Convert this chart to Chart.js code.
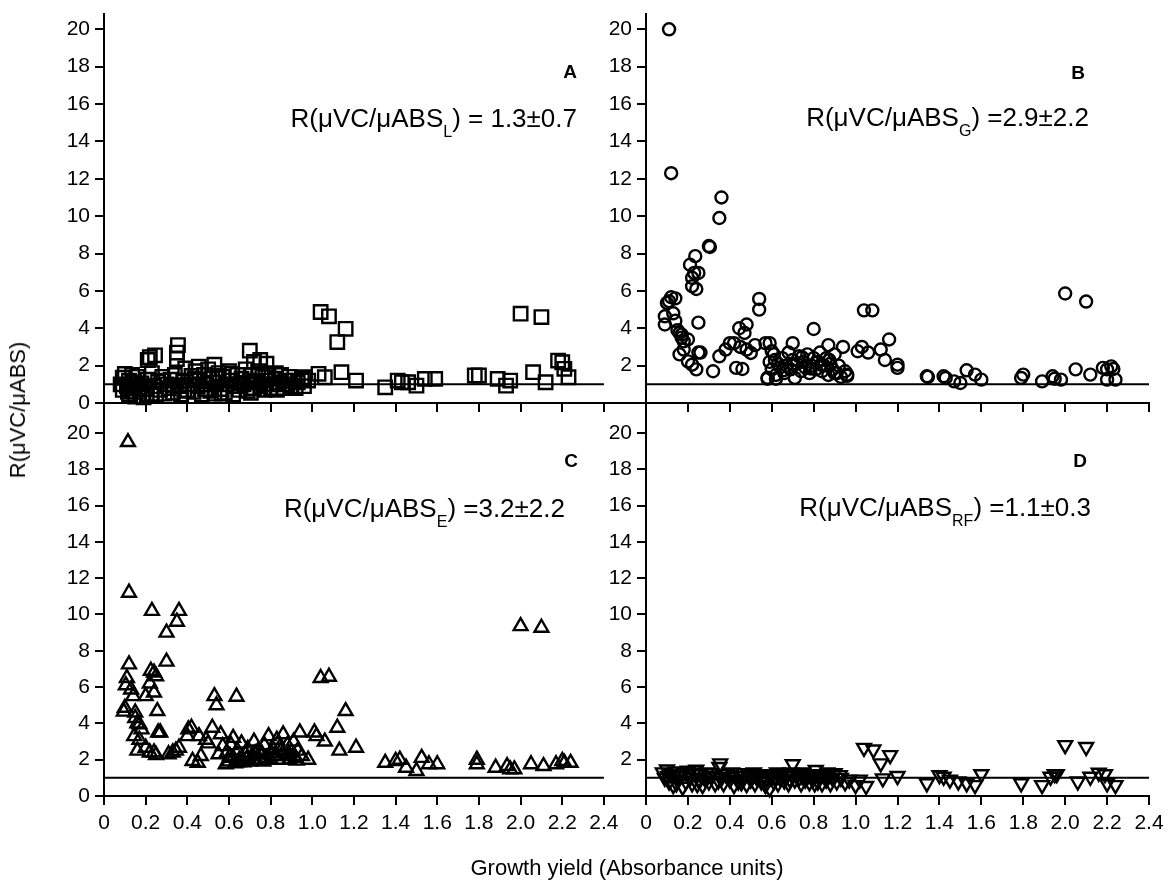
<!DOCTYPE html>
<html>
<head>
<meta charset="utf-8">
<script src="https://cdn.jsdelivr.net/npm/chart.js@4.4.0/dist/chart.umd.min.js"></script>
<style>
html,body{margin:0;padding:0;background:#fff;}
#wrap{position:relative;width:1168px;height:884px;overflow:hidden;font-family:"Liberation Sans",Arial,Helvetica,sans-serif;color:#000;}
#wrap canvas{position:absolute;left:0;top:0;width:1168px;height:884px;}
.t{position:absolute;white-space:nowrap;color:#000;}
.ann{font-size:26px;line-height:26px;}
.ann .sub{font-size:16px;position:relative;top:10px;}
.let{font-size:19px;line-height:19px;font-weight:bold;}
</style>
</head>
<body>
<div id="wrap">
<canvas id="cA" width="1168" height="884"></canvas>
<canvas id="cB" width="1168" height="884"></canvas>
<canvas id="cC" width="1168" height="884"></canvas>
<canvas id="cD" width="1168" height="884"></canvas>

<div class="t let" style="right:591px;top:62px;">A</div>
<div class="t let" style="right:83px;top:63px;">B</div>
<div class="t let" style="right:590px;top:451px;">C</div>
<div class="t let" style="right:81px;top:451px;">D</div>

<div class="t ann" style="right:591px;top:105px;">R(μVC/μABS<span class="sub">L</span>) = 1.3±0.7</div>
<div class="t ann" style="right:79px;top:104px;">R(μVC/μABS<span class="sub">G</span>) =2.9±2.2</div>
<div class="t ann" style="right:603px;top:495px;">R(μVC/μABS<span class="sub">E</span>) =3.2±2.2</div>
<div class="t ann" style="right:77px;top:494px;">R(μVC/μABS<span class="sub">RF</span>) =1.1±0.3</div>

<div class="t" style="left:627px;top:855px;font-size:22px;line-height:26px;transform:translateX(-50%);">Growth yield (Absorbance units)</div>
<div class="t" style="left:18px;top:410px;font-size:22px;line-height:26px;transform:translate(-50%,-50%) rotate(-90deg);">R(μVC/μABS)</div>
</div>

<script>
// ---------------- DATA ----------------
const X_TICKS = [0, 0.2, 0.4, 0.6, 0.8, 1.0, 1.2, 1.4, 1.6, 1.8, 2.0, 2.2, 2.4];
const X_TICK_LABELS = ['0', '0.2', '0.4', '0.6', '0.8', '1.0', '1.2', '1.4', '1.6', '1.8', '2.0', '2.2', '2.4'];
const Y_TICKS_LEFT = [0, 2, 4, 6, 8, 10, 12, 14, 16, 18, 20];
const Y_TICKS_RIGHT = [2, 4, 6, 8, 10, 12, 14, 16, 18, 20];
const REF_LINE = [[0, 1], [2.4, 1]];

// Panel A: squares (x = growth yield, y = R)
const SQUARES_A = [
  [0.08,1.0],[0.09,1.35],[0.09,0.7],[0.10,1.55],[0.11,0.9],[0.12,1.2],[0.12,0.45],[0.13,0.8],[0.14,1.1],[0.15,0.35],
  [0.15,0.95],[0.16,1.4],[0.17,0.6],[0.18,1.05],[0.19,0.3],[0.20,0.75],[0.21,1.25],[0.21,2.3],[0.22,2.45],[0.23,0.5],
  [0.23,1.6],[0.24,0.9],[0.245,2.55],[0.25,0.4],[0.26,1.15],[0.27,0.7],[0.28,1.4],[0.29,0.5],[0.30,1.0],[0.31,0.8],
  [0.32,1.25],[0.33,0.55],[0.34,1.5],[0.35,2.7],[0.355,3.1],[0.35,2.35],[0.36,0.9],[0.37,0.45],[0.38,1.2],[0.39,1.85],
  [0.40,0.7],[0.41,1.0],[0.42,1.45],[0.43,0.6],[0.44,1.7],[0.45,0.9],[0.455,1.95],[0.46,1.2],[0.47,0.45],[0.48,1.5],
  [0.49,1.0],[0.50,1.8],[0.51,0.65],[0.52,1.3],[0.53,2.05],[0.53,0.5],[0.54,1.1],[0.55,1.6],[0.56,0.75],[0.57,1.4],
  [0.58,0.55],[0.59,1.0],[0.60,1.7],[0.61,1.2],[0.62,0.45],[0.63,0.9],[0.64,1.5],[0.65,0.7],[0.66,1.3],[0.67,1.0],
  [0.68,1.8],[0.69,0.65],[0.70,1.2],[0.70,2.8],[0.71,1.5],[0.72,2.2],[0.72,0.8],[0.73,1.1],[0.74,1.7],[0.75,2.3],
  [0.75,0.9],[0.76,1.4],[0.77,0.7],[0.78,2.1],[0.78,1.2],[0.79,1.5],[0.80,0.8],[0.81,1.0],[0.82,1.3],[0.83,0.7],
  [0.84,1.1],[0.85,1.5],[0.86,0.8],[0.87,1.2],[0.88,1.0],[0.89,1.4],[0.90,0.9],[0.91,1.2],[0.92,0.8],[0.93,1.1],
  [0.95,1.3],[0.96,0.9],[0.96,1.38],[0.98,1.2],[0.115,0.6],[0.135,1.5],[0.165,0.85],[0.205,0.45],[0.285,1.2],[0.335,0.95],
  [0.385,0.65],[0.435,1.3],[0.485,0.75],[0.545,1.45],[0.565,0.5],[0.615,1.55],[0.655,1.05],[0.705,0.55],[0.765,1.0],[0.825,1.6],
  [1.03,1.56],[1.04,4.87],[1.06,1.38],[1.08,4.64],[1.12,3.26],[1.14,1.65],
  [1.16,3.97],[1.21,1.2],[1.35,0.84],[1.41,1.2],[1.43,1.11],[1.46,1.11],[1.50,0.93],[1.54,1.29],[1.59,1.29],[1.78,1.47],
  [1.80,1.47],[1.89,1.29],[1.93,0.93],[1.95,1.2],[2.00,4.78],[2.06,1.65],[2.10,4.6],[2.12,1.11],[2.18,2.27],[2.20,2.18],
  [2.21,1.83],[2.23,1.38]
];

// Panel B: circles
const CIRCLES_B = [
  [0.11,20.0],[0.12,12.3],[0.36,11.0],[0.35,9.9],[0.30,8.4],[0.305,8.35],[0.235,7.86],[0.21,7.4],[0.23,6.96],[0.25,6.96],
  [0.22,6.7],[0.22,6.25],[0.24,6.1],[0.12,5.66],[0.14,5.6],[0.10,5.36],[0.11,5.45],[0.09,4.64],[0.09,4.2],[0.13,4.8],
  [0.25,4.3],[0.14,4.4],[0.15,3.9],[0.16,3.75],[0.17,3.5],[0.17,3.66],[0.18,3.3],[0.20,3.4],[0.16,2.6],[0.18,2.86],
  [0.20,2.23],[0.22,2.05],[0.24,1.8],[0.25,2.7],[0.26,2.7],[0.32,1.7],[0.35,2.5],[0.38,2.86],[0.40,3.2],[0.42,3.2],
  [0.43,1.88],[0.46,1.82],[0.445,4.0],[0.48,4.2],[0.47,3.75],[0.45,3.0],[0.48,2.86],[0.50,2.68],[0.54,5.57],[0.54,5.0],
  [0.52,3.1],[0.57,3.2],[0.58,1.3],[0.60,2.77],[0.62,1.3],[0.58,1.35],[0.59,2.2],[0.59,3.2],[0.60,1.8],[0.61,2.6],
  [0.62,1.5],[0.63,2.1],[0.64,1.9],[0.65,2.4],[0.66,1.6],[0.67,2.0],[0.68,2.7],[0.69,1.8],[0.70,2.3],[0.70,3.2],
  [0.71,1.34],[0.72,2.1],[0.73,2.5],[0.74,1.7],[0.75,2.2],[0.76,1.9],[0.77,2.6],[0.78,1.6],[0.79,2.0],[0.80,2.4],
  [0.80,3.96],[0.81,1.8],[0.82,2.2],[0.83,2.7],[0.84,1.7],[0.85,2.0],[0.86,2.4],[0.87,1.5],[0.87,3.1],[0.88,2.1],
  [0.89,1.8],[0.90,2.6],[0.90,1.6],[0.91,1.6],[0.92,2.0],[0.93,1.4],[0.94,3.0],[0.95,1.7],[0.96,1.45],[0.96,1.52],
  [0.615,2.3],[0.655,1.75],[0.705,2.05],[0.745,2.45],[0.785,1.85],[0.835,2.05],[0.875,2.3],
  [1.01,2.77],[1.03,3.0],[1.04,4.96],[1.06,2.7],[1.08,4.96],[1.12,2.86],[1.14,2.3],[1.16,3.4],[1.20,2.05],[1.20,1.88],
  [1.34,1.43],[1.345,1.4],[1.42,1.43],[1.43,1.34],[1.47,1.16],[1.50,1.07],[1.53,1.75],[1.57,1.52],[1.60,1.25],[1.79,1.34],
  [1.80,1.52],[1.89,1.16],[1.94,1.43],[1.95,1.3],[1.98,1.25],[2.00,5.86],[2.10,5.43],[2.05,1.8],[2.12,1.52],[2.18,1.88],
  [2.20,1.8],[2.22,1.96],[2.23,1.82],[2.20,1.25],[2.24,1.25]
];

// Panel C: triangles
const TRIANGLES_C = [
  [0.115,19.5],[0.12,11.2],[0.23,10.2],[0.36,10.2],[0.35,9.6],[0.30,9.0],[0.30,7.4],[0.12,7.25],[0.11,6.5],[0.105,6.1],
  [0.225,6.9],[0.24,6.8],[0.25,6.6],[0.22,6.2],[0.24,5.7],[0.20,5.5],[0.13,5.87],[0.14,5.5],[0.10,4.86],[0.095,4.65],
  [0.256,4.68],[0.15,4.6],[0.15,4.3],[0.16,4.0],[0.17,3.95],[0.18,3.67],[0.145,3.3],[0.17,3.1],[0.26,3.5],[0.27,3.5],
  [0.16,2.5],[0.20,2.66],[0.22,2.4],[0.24,2.4],[0.25,2.26],[0.31,2.3],[0.33,2.4],[0.345,2.5],[0.36,2.66],[0.405,3.67],
  [0.42,3.76],[0.40,3.3],[0.425,1.93],[0.45,1.83],[0.465,2.2],[0.456,3.3],[0.49,3.1],[0.50,2.9],[0.52,3.76],[0.53,5.5],
  [0.54,5.0],[0.56,3.4],[0.57,2.75],[0.55,2.3],[0.636,5.47],[0.62,3.2],[0.585,1.75],[0.59,2.4],[0.60,1.9],[0.61,2.8],
  [0.62,2.1],[0.63,1.8],[0.64,2.5],[0.65,2.0],[0.66,2.9],[0.67,1.85],[0.68,2.3],[0.69,2.6],[0.70,1.9],[0.71,2.2],
  [0.72,3.0],[0.73,2.0],[0.74,2.5],[0.75,1.95],[0.76,2.3],[0.77,2.8],[0.78,2.1],[0.79,3.3],[0.80,2.0],[0.81,2.6],
  [0.82,2.2],[0.83,3.1],[0.84,2.0],[0.85,2.5],[0.86,3.4],[0.87,2.2],[0.88,2.8],[0.89,2.0],[0.90,2.4],[0.91,3.0],
  [0.92,2.1],[0.93,2.5],[0.94,3.5],[0.95,2.2],[0.98,2.0],[0.605,2.2],[0.645,1.85],[0.685,2.05],[0.725,2.35],[0.765,1.9],
  [0.805,2.35],[0.845,2.7],[0.885,2.3],[0.925,1.95],
  [1.01,3.5],[1.02,3.3],[1.06,3.0],[1.04,6.5],[1.08,6.57],
  [1.16,4.68],[1.12,3.76],[1.13,2.5],[1.21,2.66],[1.35,1.83],[1.40,1.93],[1.42,2.0],[1.45,1.56],[1.50,1.38],[1.525,2.1],
  [1.56,1.75],[1.60,1.75],[1.79,2.0],[1.79,1.75],[1.88,1.56],[1.935,1.65],[1.95,1.47],[1.97,1.47],[2.00,9.36],[2.10,9.27],
  [2.05,1.75],[2.11,1.65],[2.17,1.75],[2.20,1.93],[2.21,1.83],[2.24,1.83]
];

// Panel D: inverted triangles
const INV_TRIANGLES_D = [
  [0.08,1.3],[0.09,1.0],[0.10,1.46],[0.11,0.8],[0.12,1.2],[0.13,0.6],[0.14,1.35],[0.15,0.9],[0.16,1.1],[0.175,0.5],
  [0.18,1.3],[0.19,0.8],[0.20,1.4],[0.21,1.0],[0.22,0.7],[0.23,1.3],[0.24,1.45],[0.25,0.9],[0.26,1.2],[0.27,0.6],
  [0.28,1.0],[0.29,1.3],[0.30,0.8],[0.31,1.1],[0.33,0.7],[0.35,1.6],[0.354,1.8],[0.36,1.0],[0.37,0.7],[0.38,1.2],
  [0.40,0.9],[0.41,1.3],[0.42,0.6],[0.43,1.1],[0.44,0.8],[0.45,1.25],[0.46,0.9],[0.47,1.1],[0.48,0.65],[0.49,1.2],
  [0.50,0.9],[0.51,1.15],[0.52,0.7],[0.53,1.0],[0.54,1.2],[0.55,0.8],[0.56,1.1],[0.57,0.6],[0.59,0.42],[0.59,1.0],
  [0.60,1.2],[0.61,0.8],[0.62,1.1],[0.63,0.7],[0.64,1.0],[0.65,1.2],[0.66,0.85],[0.67,1.1],[0.68,0.7],[0.69,1.3],
  [0.70,1.75],[0.71,0.9],[0.72,1.2],[0.73,1.0],[0.74,0.7],[0.75,1.3],[0.76,0.9],[0.77,1.1],[0.78,0.75],[0.79,1.2],
  [0.80,1.0],[0.81,1.43],[0.82,0.8],[0.83,1.1],[0.84,0.7],[0.85,1.2],[0.86,0.9],[0.87,1.1],[0.88,0.7],[0.89,1.0],
  [0.90,1.25],[0.91,0.8],[0.93,1.0],[0.95,0.75],[0.97,0.9],[1.00,0.6],[1.02,0.9],[1.05,0.55],
  [0.105,1.1],[0.145,0.7],[0.205,1.2],[0.245,0.65],[0.305,1.25],[0.345,0.85],[0.395,1.05],[0.455,0.75],[0.515,1.3],
  [0.575,0.95],[0.625,1.3],[0.685,0.95],[0.745,1.1],[0.805,0.7],[0.865,1.3],[0.925,1.15],
  [1.04,2.65],[1.085,2.56],
  [1.12,1.8],[1.165,2.25],[1.13,0.97],[1.20,1.1],[1.34,0.7],[1.40,1.15],[1.42,1.06],[1.45,0.9],[1.49,0.8],[1.53,0.7],
  [1.57,0.6],[1.60,1.2],[1.79,0.7],[1.89,0.6],[1.93,1.06],[1.95,1.2],[1.96,1.2],[2.00,2.8],[2.10,2.7],[2.06,0.8],
  [2.12,1.06],[2.16,1.28],[2.19,1.2],[2.20,0.7],[2.24,0.6]
];

// ---------------- CHARTS ----------------
const FONT = "'Liberation Sans', Arial, Helvetica, sans-serif";
const Y_W = 70, X_H = 60, W = 1168, H = 884;
const toXY = arr => arr.map(p => ({x: p[0], y: p[1]}));

function makePanel(id, points, pointStyle, rotation, radius, area, xMax, yMax, yTicks, showXLabels) {
  new Chart(document.getElementById(id), {
    type: 'scatter',
    data: {
      datasets: [
        {
          data: toXY(REF_LINE),
          showLine: true,
          borderColor: '#000',
          borderWidth: 2,
          pointRadius: 0,
          fill: false
        },
        {
          data: toXY(points),
          pointStyle: pointStyle,
          rotation: rotation,
          pointRadius: radius,
          pointBorderWidth: 2.4,
          borderColor: '#000',
          backgroundColor: 'rgba(0,0,0,0)',
          showLine: false,
          clip: false
        }
      ]
    },
    options: {
      responsive: false,
      animation: false,
      events: [],
      layout: {
        padding: {
          left: area.l - Y_W,
          right: W - area.r,
          top: area.t,
          bottom: H - area.b - X_H
        }
      },
      plugins: { legend: { display: false }, tooltip: { enabled: false }, title: { display: false } },
      scales: {
        x: {
          type: 'linear',
          min: 0,
          max: xMax,
          afterBuildTicks: s => { s.ticks = X_TICKS.map(v => ({ value: v })); },
          afterFit: s => { s.height = X_H; s.paddingLeft = 0; s.paddingRight = 0; s.paddingTop = 0; s.paddingBottom = 0; },
          ticks: {
            display: showXLabels,
            autoSkip: false,
            maxRotation: 0,
            minRotation: 0,
            padding: 6,
            color: '#000',
            font: { family: FONT, size: 21 },
            callback: (v, i) => X_TICK_LABELS[i]
          },
          grid: { drawOnChartArea: false, drawTicks: true, tickLength: 9, color: '#000', lineWidth: 2 },
          border: { display: true, color: '#000', width: 2 }
        },
        y: {
          type: 'linear',
          min: 0,
          max: yMax,
          afterBuildTicks: s => { s.ticks = yTicks.map(v => ({ value: v })); },
          afterFit: s => { s.width = Y_W; s.paddingLeft = 0; s.paddingRight = 0; s.paddingTop = 0; s.paddingBottom = 0; },
          ticks: {
            autoSkip: false,
            padding: 5,
            color: '#000',
            font: { family: FONT, size: 21 },
            callback: v => String(v)
          },
          grid: { drawOnChartArea: false, drawTicks: true, tickLength: 9, color: '#000', lineWidth: 2 },
          border: { display: true, color: '#000', width: 2 }
        }
      }
    }
  });
}

makePanel('cA', SQUARES_A, 'rect', 0, 9.5, { l: 104, r: 646, t: 14, b: 403 }, 2.602, 20.82, Y_TICKS_LEFT, false);
makePanel('cB', CIRCLES_B, 'circle', 0, 6, { l: 646, r: 1149, t: 14, b: 403 }, 2.4, 20.82, Y_TICKS_RIGHT, false);
makePanel('cC', TRIANGLES_C, 'triangle', 0, 8, { l: 104, r: 646, t: 403, b: 796 }, 2.602, 21.65, Y_TICKS_LEFT, true);
makePanel('cD', INV_TRIANGLES_D, 'triangle', 180, 8, { l: 646, r: 1149, t: 403, b: 796 }, 2.4, 21.65, Y_TICKS_RIGHT, true);
</script>
</body>
</html>
